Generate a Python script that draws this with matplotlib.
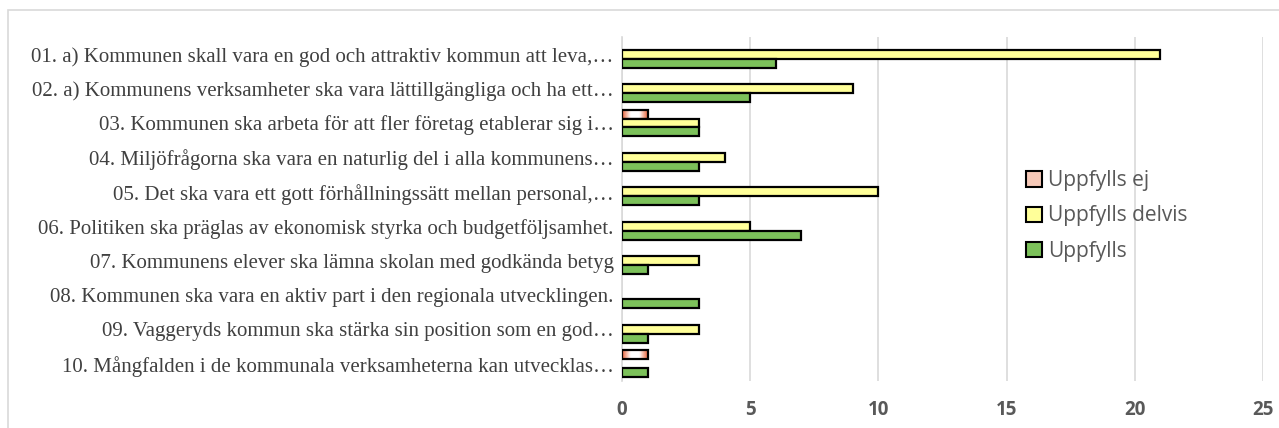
import matplotlib
matplotlib.use("Agg")
import matplotlib.pyplot as plt
import numpy as np
from matplotlib.patches import Rectangle, Patch
from matplotlib.colors import LinearSegmentedColormap

categories = [
    "01. a) Kommunen skall vara en god och attraktiv kommun att leva,…",
    "02. a) Kommunens verksamheter ska vara lättillgängliga och ha ett…",
    "03. Kommunen ska arbeta för att fler företag etablerar sig i…",
    "04. Miljöfrågorna ska vara en naturlig del i alla kommunens…",
    "05. Det ska vara ett gott förhållningssätt mellan personal,…",
    "06. Politiken ska präglas av ekonomisk styrka och budgetföljsamhet.",
    "07. Kommunens elever ska lämna skolan med godkända betyg",
    "08. Kommunen ska vara en aktiv part i den regionala utvecklingen.",
    "09. Vaggeryds kommun ska stärka sin position som en god…",
    "10. Mångfalden i de kommunala verksamheterna kan utvecklas…",
]
uppfylls_ej = [0, 0, 1, 0, 0, 0, 0, 0, 0, 1]
uppfylls_delvis = [21, 9, 3, 4, 10, 5, 3, 0, 3, 0]
uppfylls = [6, 5, 3, 3, 3, 7, 1, 3, 1, 1]
series_names = ["Uppfylls ej", "Uppfylls delvis", "Uppfylls"]
xticks = [0, 5, 10, 15, 20, 25]

W, H = 1279, 428
fig = plt.figure(figsize=(W / 100, H / 100), dpi=100)
fig.patch.set_facecolor("white")
fig.add_artist(Rectangle((8 / W, -0.2), 1.2, 1 - 10 / H + 0.2, transform=fig.transFigure,
                         fill=False, edgecolor="#d9d9d9", linewidth=1.2))

ax = fig.add_axes([622 / W, 1 - 381 / H, (1263 - 622) / W, (381 - 37) / H])

y = np.arange(len(categories))
h = 0.26
edge = dict(edgecolor="black", linewidth=1.6)


def nz(vals):
    return np.array([v if v != 0 else np.nan for v in vals], dtype=float)


b_ej = ax.barh(y - h, nz(uppfylls_ej), height=h, facecolor="none", zorder=3, **edge)
b_del = ax.barh(y, nz(uppfylls_delvis), height=h, facecolor="#ffff99", zorder=3, **edge)
b_up = ax.barh(y + h, nz(uppfylls), height=h, facecolor="#7cc15a", zorder=3, **edge)

cmap = LinearSegmentedColormap.from_list("g", ["#e8643c", "#ffffff", "#ffffff", "#e8643c"])
grad = np.linspace(0, 1, 64).reshape(1, -1)
for p in b_ej.patches:
    w = p.get_width()
    if np.isfinite(w) and w > 0:
        x0, y0 = p.get_x(), p.get_y()
        im = ax.imshow(grad, extent=[x0, x0 + w, y0, y0 + p.get_height()], aspect="auto",
                       cmap=cmap, zorder=2.5, interpolation="bicubic")
        im.set_clip_path(p)

ax.set_xlim(0, 25)
ax.set_ylim(len(categories) - 0.5, -0.5)
ax.set_xticks(xticks)
ax.set_xticklabels([str(t) for t in xticks], fontfamily="Open Sans", fontweight="bold",
                   fontsize=13.5, color="#595959")
ax.set_yticks(y)
ax.set_yticklabels(categories, fontfamily="Liberation Serif", fontsize=15, color="#404040")
ax.tick_params(axis="both", length=0)
ax.tick_params(axis="x", pad=14)
ax.tick_params(axis="y", pad=6)
ax.grid(axis="x", color="#d9d9d9", linewidth=1.2, zorder=0)
for s in ["top", "right", "bottom"]:
    ax.spines[s].set_visible(False)
ax.spines["left"].set_color("#d9d9d9")
ax.spines["left"].set_linewidth(1.2)
ax.set_axisbelow(True)

handles = [
    Patch(facecolor="#f6c9b8", edgecolor="black", linewidth=1.5),
    Patch(facecolor="#ffff99", edgecolor="black", linewidth=1.5),
    Patch(facecolor="#7cc15a", edgecolor="black", linewidth=1.5),
]
leg = ax.legend(handles, series_names, loc="center left",
                bbox_to_anchor=((1016 - 622) / (1263 - 622), (381 - 216) / 344),
                frameon=False, prop={"family": "Open Sans", "size": 15}, labelcolor="#595959",
                handlelength=0.75, handleheight=0.75, handletextpad=0.3, labelspacing=0.68,
                borderpad=0)

fig.savefig("out.png", dpi=100)
